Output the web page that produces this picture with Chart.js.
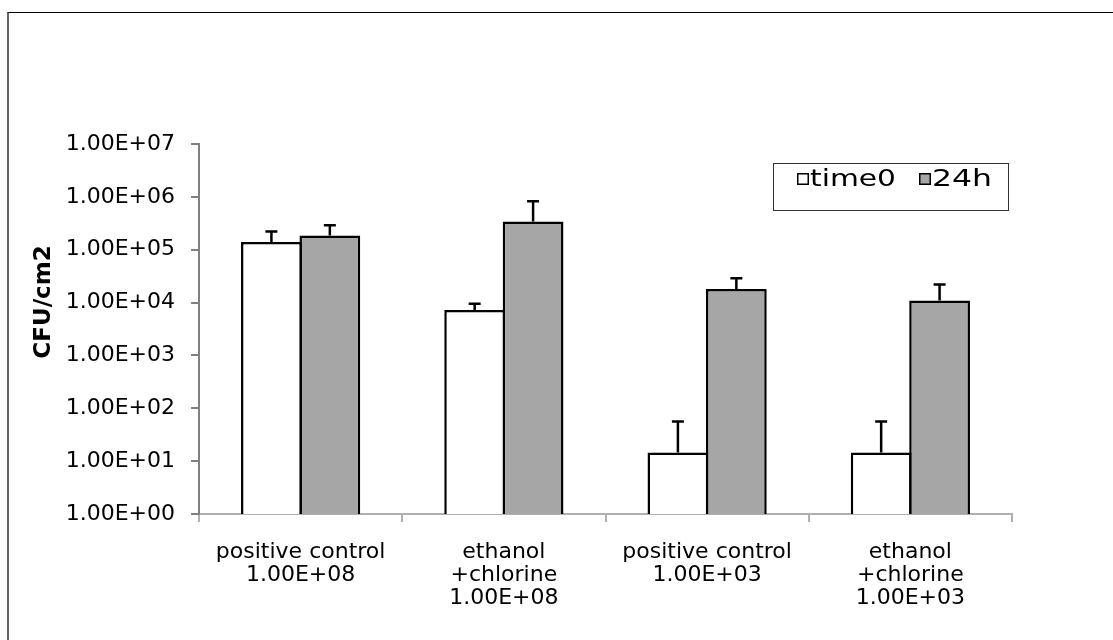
<!DOCTYPE html>
<html>
<head>
<meta charset="utf-8">
<title>CFU/cm2</title>
<script src="https://cdn.jsdelivr.net/npm/chart.js@4/dist/chart.umd.min.js"></script>
<style>
  html, body { margin: 0; padding: 0; background: #fff; }
  #frame {
    position: absolute; left: 7px; top: 12px; right: 0; bottom: 0;
    border-left: 2px solid #666; border-top: 1px solid #000;
  }
  #chart { position: absolute; left: 0; top: 0; }
</style>
</head>
<body>
<div id="frame"></div>
<canvas id="chart" width="1113" height="640"></canvas>
<script>
// ---- data ----
const categories = [
  ['positive control', '1.00E+08'],
  ['ethanol', '+chlorine', '1.00E+08'],
  ['positive control', '1.00E+03'],
  ['ethanol', '+chlorine', '1.00E+03']
];
const seriesNames = ['time0', '24h'];
const time0 = [140000, 7200, 14.5, 14.5];
const time0Err = [80000, 2300, 42, 42];
const h24 = [186000, 340000, 18000, 11000];
const h24Err = [104000, 490000, 11000, 11000];
const yTicks = [1, 10, 100, 1000, 10000, 100000, 1000000, 10000000];

// 1.00E+07 style labels
function sciLabel(v) {
  const e = Math.round(Math.log10(v));
  const m = v / Math.pow(10, e);
  return m.toFixed(2) + 'E' + (e < 0 ? '-' : '+') + String(Math.abs(e)).padStart(2, '0');
}

Chart.defaults.font.family = 'DejaVu Sans';
Chart.defaults.color = '#000';

// error bars (upper only) on top of each bar
const errorBars = {
  id: 'errorBars',
  afterDatasetsDraw(chart) {
    const ctx = chart.ctx;
    const y = chart.scales.y;
    ctx.save();
    ctx.strokeStyle = '#000';
    ctx.lineWidth = 2.5;
    chart.data.datasets.forEach((ds, i) => {
      const meta = chart.getDatasetMeta(i);
      meta.data.forEach((bar, j) => {
        const top = y.getPixelForValue(ds.data[j] + ds.errors[j]);
        ctx.beginPath();
        ctx.moveTo(bar.x, bar.y);
        ctx.lineTo(bar.x, top);
        ctx.moveTo(bar.x - 6, top);
        ctx.lineTo(bar.x + 6, top);
        ctx.stroke();
      });
    });
    ctx.restore();
  }
};

// boxed legend and rotated axis title, drawn like the original
const extras = {
  id: 'extras',
  afterDraw(chart) {
    const ctx = chart.ctx;
    ctx.save();
    // y axis title
    ctx.translate(44, 302);
    ctx.rotate(-Math.PI / 2);
    ctx.font = 'bold 23px "DejaVu Sans"';
    ctx.textAlign = 'center';
    ctx.textBaseline = 'middle';
    ctx.fillStyle = '#000';
    ctx.fillText('CFU/cm2', 0, 0);
    ctx.restore();

    // legend box
    ctx.save();
    ctx.strokeStyle = '#333';
    ctx.lineWidth = 1;
    ctx.strokeRect(773.5, 163.5, 235, 47);
    const items = [
      { x: 797, w: 86 },
      { x: 919, w: 60 }
    ];
    ctx.font = '23px "DejaVu Sans"';
    ctx.textBaseline = 'middle';
    chart.data.datasets.forEach((ds, i) => {
      const it = items[i];
      ctx.fillStyle = ds.backgroundColor;
      ctx.fillRect(it.x, 173, 12, 12);
      ctx.strokeStyle = '#000';
      ctx.lineWidth = 1.5;
      ctx.strokeRect(it.x + 0.75, 173.75, 10.5, 10.5);
      ctx.save();
      ctx.translate(it.x + 13, 180);
      const tw = ctx.measureText(ds.label).width;
      ctx.scale(it.w / tw, 1);
      ctx.fillStyle = '#000';
      ctx.fillText(ds.label, 0, 0);
      ctx.restore();
    });
    ctx.restore();
  }
};

new Chart(document.getElementById('chart').getContext('2d'), {
  type: 'bar',
  data: {
    labels: categories,
    datasets: [
      {
        label: seriesNames[0],
        data: time0,
        errors: time0Err,
        backgroundColor: '#ffffff',
        borderColor: '#000',
        borderWidth: 2.5
      },
      {
        label: seriesNames[1],
        data: h24,
        errors: h24Err,
        backgroundColor: '#a6a6a6',
        borderColor: '#000',
        borderWidth: 2.5
      }
    ]
  },
  options: {
    responsive: false,
    animation: false,
    devicePixelRatio: 1,
    layout: { padding: { top: 144, right: 101, left: 0, bottom: 0 } },
    datasets: {
      bar: { barPercentage: 1.04, categoryPercentage: 0.575, borderSkipped: 'bottom', inflateAmount: 0 }
    },
    scales: {
      x: {
        grid: { drawOnChartArea: false, tickLength: 8, color: '#b0b0b0', lineWidth: 2, offset: true },
        border: { color: '#b0b0b0', width: 2 },
        ticks: {
          font: { size: 22, lineHeight: 1.05 },
          padding: 19,
          maxRotation: 0,
          autoSkip: false
        },
        afterFit(scale) { scale.height = 126; }
      },
      y: {
        type: 'logarithmic',
        min: 1,
        max: 10000000,
        grid: { drawOnChartArea: false, tickLength: 8, color: '#808080', lineWidth: 2 },
        border: { color: '#808080', width: 2 },
        ticks: {
          font: { size: 22 },
          padding: 16,
          callback: v => sciLabel(v)
        },
        afterBuildTicks(scale) {
          scale.ticks = yTicks.map(v => ({ value: v }));
        },
        afterFit(scale) { scale.width = 199; }
      }
    },
    plugins: {
      legend: { display: false },
      tooltip: { enabled: false }
    }
  },
  plugins: [errorBars, extras]
});
</script>
</body>
</html>
